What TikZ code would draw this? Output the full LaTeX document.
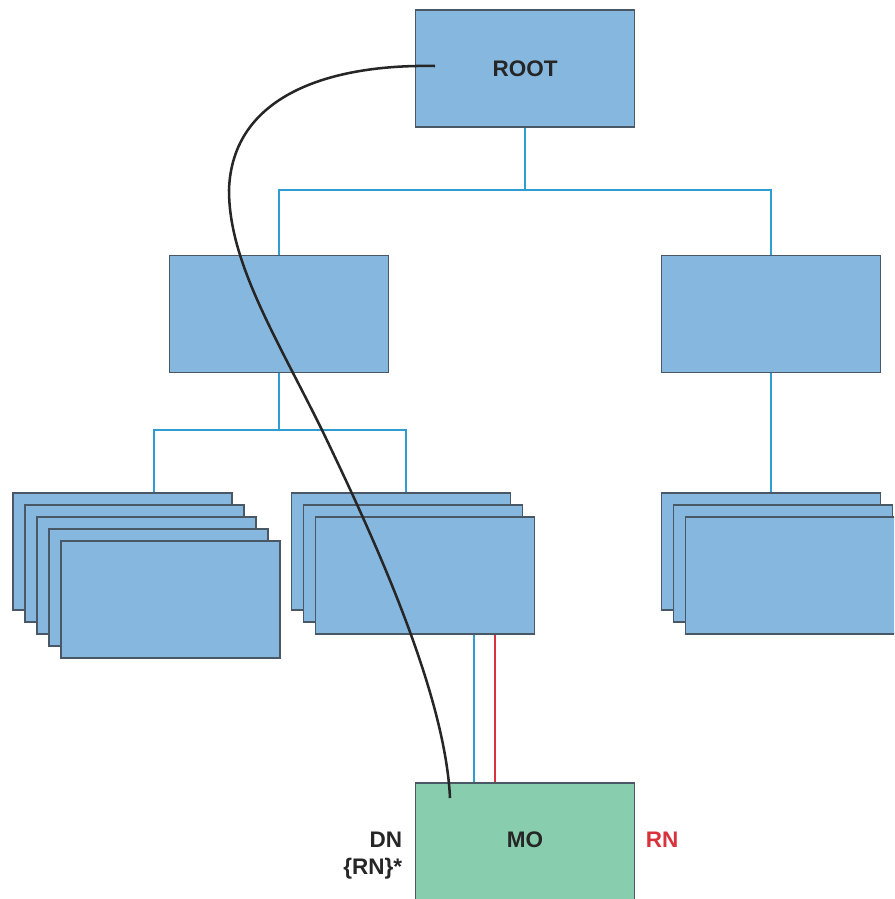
\documentclass[tikz,border=0pt]{standalone}
\usepackage{fontspec}
\setmainfont{Liberation Sans}
\usetikzlibrary{positioning}
\definecolor{boxblue}{HTML}{86B8DF}
\definecolor{boxline}{HTML}{4A5866}
\definecolor{treeblue}{HTML}{2F9DD2}
\definecolor{mogreen}{HTML}{88CDAE}
\definecolor{rnred}{HTML}{D8323C}
\tikzset{
    BX/.style ={rectangle,minimum width = 5.475cm, minimum height = 2.925cm, inner sep=0pt, draw=boxline, fill=boxblue, line width=1.1pt},
    MOB/.style ={BX, fill=mogreen},
    TX/.style ={font=\fontsize{16}{19}\selectfont\bfseries, text=black!85},
    tree/.style={draw=treeblue, line width=1.5pt},
    link/.style={draw=black!85, line width=1.8pt}
}

\begin{document}
\begin{tikzpicture}[x=0.025cm,y=-0.025cm]
        \useasboundingbox (0,0) rectangle (894,899);
        \clip (0,0) rectangle (894,899);
        % tree connectors
        \coordinate (j1) at (525,190);
        \coordinate (j2) at (279,430);
        \coordinate (inA) at (154,493);
        \coordinate (inB) at (406,493);
        \coordinate (blueTop) at (474,635);
        \coordinate (redTop) at (495,635);
        % boxes
        \node[BX](root) at (525,68.5) {};
        \node[BX](midL) at (279,314) {};
        \node[BX](midR) at (771,314) {};
        \draw[tree] (root.south) -- (j1);
        \draw[tree] (j1) -| (midL.north);
        \draw[tree] (j1) -| (midR.north);
        \draw[tree] (midL.south) -- (j2);
        \draw[tree] (j2) -| (inA);
        \draw[tree] (j2) -| (inB);
        \foreach \k in {0,...,4}
            \node[BX](leafA\k) at (122.5+12*\k,551.5+12*\k) {};
        \foreach \k in {0,...,2}
            \node[BX](leafB\k) at (401+12*\k,551.5+12*\k) {};
        \foreach \k in {0,...,2}
            \node[BX](leafC\k) at (771+12*\k,551.5+12*\k) {};
        \draw[tree] (midR.south) -- (leafC0.north);
        \node[MOB](mo) at (525,841.5) {};
        \draw[tree] (blueTop) -- (blueTop |- mo.north);
        \draw[tree, draw=rnred] (redTop) -- (redTop |- mo.north);
        % labels
        \node[TX] at (root) {ROOT};
        \node[TX] at (525,840) {MO};
        \node[TX, anchor=east] (dn) at (407,840) {DN};
        \node[TX, anchor=east] (rns) at (407,869) {\{RN\}*};
        \node[TX, anchor=west, text=rnred] (rn) at (641,840) {RN};
        % DN path
        \coordinate (dnStart) at (435,66);
        \coordinate (dnEnd) at (450,798);
        \draw[link] (dnStart) .. controls (330,64) and (232,95) .. (229,190)
            .. controls (229,262) and (275,335) .. (322,430)
            .. controls (370,530) and (445,690) .. (dnEnd);
    \end{tikzpicture}
\end{document}
